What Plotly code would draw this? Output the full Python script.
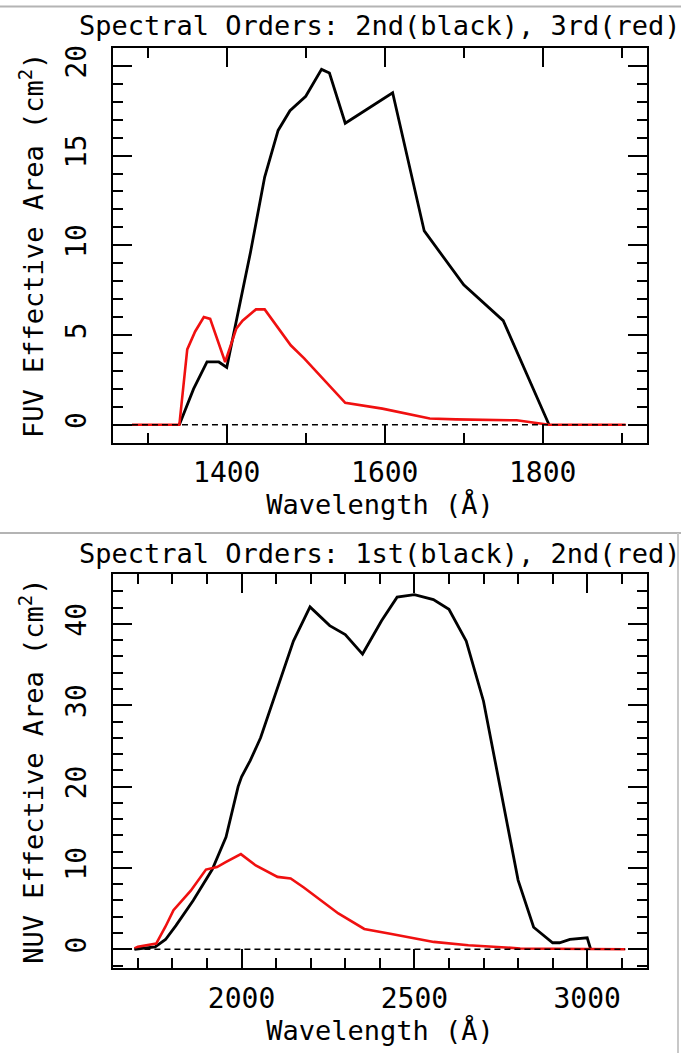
import plotly.graph_objects as go

# ---------------- data ----------------
fuv_wave_2nd = [1340, 1358, 1375, 1390, 1400, 1430, 1448, 1465, 1480, 1500, 1520, 1530,
                1550, 1610, 1650, 1700, 1750, 1808]
fuv_area_2nd = [0, 2.0, 3.5, 3.5, 3.2, 9.6, 13.8, 16.4, 17.5, 18.3, 19.8, 19.6,
                16.8, 18.5, 10.8, 7.8, 5.8, 0]

fuv_wave_3rd = [1280, 1340, 1350, 1360, 1371, 1379, 1398, 1412, 1420, 1437, 1448, 1465,
                1481, 1498, 1550, 1597, 1657, 1690, 1767, 1808, 1905]
fuv_area_3rd = [0, 0, 4.2, 5.2, 6.0, 5.9, 3.5, 5.35, 5.8, 6.43, 6.43, 5.4,
                4.43, 3.7, 1.22, 0.9, 0.35, 0.3, 0.25, 0, 0]

nuv_wave_1st = [1690, 1750, 1780, 1810, 1860, 1915, 1955, 1990, 2000, 2025, 2055, 2105,
                2150, 2198, 2255, 2300, 2350, 2405, 2450, 2500, 2555, 2600, 2650, 2700,
                2750, 2765, 2800, 2845, 2900, 2920, 2950, 3000, 3010]
nuv_area_1st = [0, 0.3, 1.2, 2.9, 6.0, 9.8, 13.8, 20.0, 21.2, 23.2, 26.0, 32.2,
                37.9, 42.1, 39.8, 38.7, 36.3, 40.4, 43.3, 43.6, 43.0, 41.8, 37.9, 30.5,
                19.5, 16.3, 8.5, 2.7, 0.8, 0.8, 1.2, 1.4, 0]

nuv_wave_2nd = [1690, 1700, 1753, 1780, 1803, 1853, 1897, 1929, 1954, 1998, 2041, 2104,
                2142, 2180, 2280, 2355, 2430, 2556, 2656, 2806, 3110]
nuv_area_2nd = [0.1, 0.3, 0.7, 2.8, 4.8, 7.2, 9.8, 10.1, 10.7, 11.7, 10.3, 8.9,
                8.7, 7.6, 4.4, 2.5, 1.9, 0.9, 0.5, 0.1, 0]

zero_fuv_wave = [1280, 1905]
zero_nuv_wave = [1690, 3110]
zero_level = [0, 0]

top_title = "Spectral Orders: 2nd(black), 3rd(red)"
bottom_title = "Spectral Orders: 1st(black), 2nd(red)"
x_title = "Wavelength (Å)"
top_y_title = "FUV Effective Area (cm<sup>2</sup>)"
bottom_y_title = "NUV Effective Area (cm<sup>2</sup>)"

# ---------------- styling ----------------
W, H = 681, 1053
FONT = "DejaVu Sans Mono"
RED = "#f01010"

def px_x(p):
    return p / W

def px_y(p):
    return 1 - p / H

fig = go.Figure()

def add_line(x, y, color, xa, ya, width=2.8, dash=None):
    fig.add_trace(go.Scatter(x=x, y=y, mode="lines", xaxis=xa, yaxis=ya,
                             line=dict(color=color, width=width, dash=dash),
                             showlegend=False, hoverinfo="skip"))

# top panel
add_line(fuv_wave_2nd, fuv_area_2nd, "black", "x", "y")
add_line(fuv_wave_3rd, fuv_area_3rd, RED, "x", "y", width=2.6)
add_line(zero_fuv_wave, zero_level, "black", "x", "y", width=1.6, dash="6px,4px")
# bottom panel
add_line(nuv_wave_1st, nuv_area_1st, "black", "x2", "y2")
add_line(nuv_wave_2nd, nuv_area_2nd, RED, "x2", "y2", width=2.6)
add_line(zero_nuv_wave, zero_level, "black", "x2", "y2", width=1.6, dash="6px,4px")

tickfont = dict(family=FONT, size=28, color="black")
titlefont = dict(family=FONT, size=27, color="black")

def xaxis(dom, rng, dtick, minor, anchor):
    return dict(domain=dom, range=rng, anchor=anchor, dtick=dtick, tick0=0,
                ticks="inside", ticklen=19, tickwidth=2, tickcolor="black",
                minor=dict(ticks="inside", ticklen=10, tickwidth=2, tickcolor="black", dtick=minor, tick0=0),
                showline=True, linecolor="black", linewidth=2, mirror="allticks",
                showgrid=False, zeroline=False, tickfont=tickfont,
                ticklabelstandoff=4,
                title=dict(text=x_title, font=titlefont, standoff=6))

def yaxis(dom, rng, dtick, minor, anchor, title):
    return dict(domain=dom, range=rng, anchor=anchor, dtick=dtick, tick0=0,
                ticks="inside", ticklen=19, tickwidth=2, tickcolor="black",
                minor=dict(ticks="inside", ticklen=10, tickwidth=2, tickcolor="black", dtick=minor, tick0=0),
                showline=True, linecolor="black", linewidth=2, mirror="allticks",
                showgrid=False, zeroline=False, tickfont=tickfont, tickangle=-90,
                ticklabelstandoff=14,
                title=dict(text=title, font=titlefont, standoff=8))

x_dom = [px_x(113), px_x(647)]
top_dom = [px_y(441), px_y(45)]
bot_dom = [px_y(967.7), px_y(573)]

fig.update_layout(
    width=W, height=H,
    margin=dict(l=0, r=0, t=0, b=0),
    paper_bgcolor="white", plot_bgcolor="white",
    xaxis=xaxis(x_dom, [1256, 1932], 200, 100, "y"),
    yaxis=yaxis(top_dom, [-1, 21], 5, 1, "x", top_y_title),
    xaxis2=xaxis(x_dom, [1628, 3173], 500, 100, "y2"),
    yaxis2=yaxis(bot_dom, [-2.3, 46.1], 10, 2, "x2", bottom_y_title),
    showlegend=False,
)

# panel titles
fig.add_annotation(text=top_title, xref="paper", yref="paper", x=px_x(379), y=px_y(23),
                   showarrow=False, font=titlefont, xanchor="center", yanchor="middle")
fig.add_annotation(text=bottom_title, xref="paper", yref="paper", x=px_x(379), y=px_y(552),
                   showarrow=False, font=titlefont, xanchor="center", yanchor="middle")

# image border lines of the original composite
fig.add_shape(type="line", xref="paper", yref="paper", x0=0, x1=1, y0=px_y(3.5), y1=px_y(3.5),
              line=dict(color="#b4b4b4", width=2))
fig.add_shape(type="line", xref="paper", yref="paper", x0=0, x1=1, y0=px_y(531.5), y1=px_y(531.5),
              line=dict(color="#b4b4b4", width=2))
fig.add_shape(type="line", xref="paper", yref="paper", x0=px_x(678), x1=px_x(678), y0=px_y(531.5), y1=0,
              line=dict(color="#c8c8c8", width=2))

fig.write_html("out.html")
